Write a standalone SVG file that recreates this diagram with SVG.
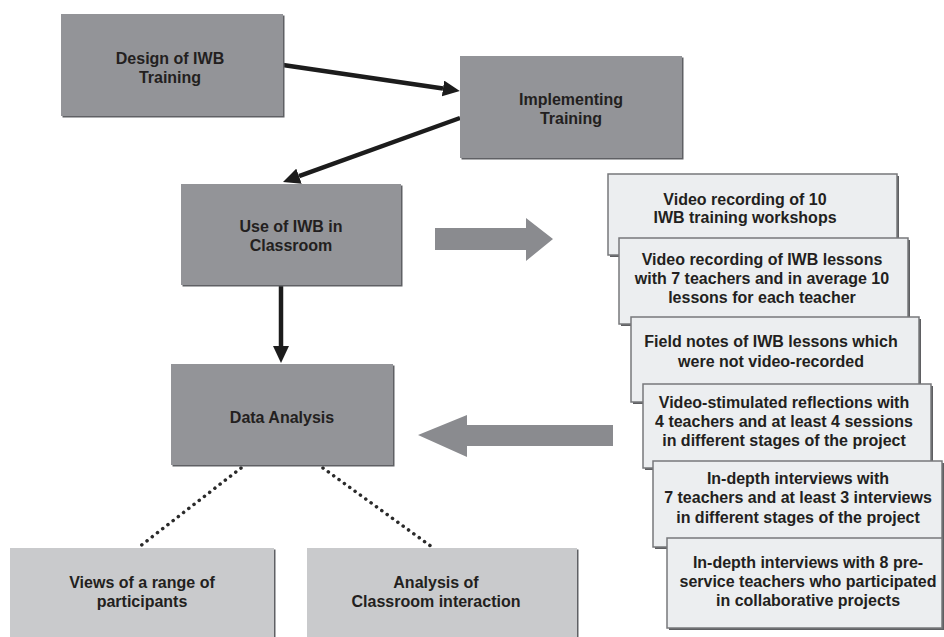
<svg xmlns="http://www.w3.org/2000/svg" width="944" height="637" viewBox="0 0 944 637">
<style>
  .dark { fill: #939498; }
  .dshadow { fill: #5f6064; }
  .lite { fill: #c9cacc; }
  .note { fill: #eceef0; stroke: #77787b; stroke-width: 1.5; }
  .nshadow { fill: #5e5f62; }
  text { font-family: "Liberation Sans", Arial, sans-serif; font-weight: bold; font-size: 16px; fill: #231f20; text-anchor: middle; }
  .conn { stroke: #1c1c1c; stroke-width: 4.5; fill: none; marker-end: url(#head); }
  .dots { stroke: #2a2a2a; stroke-width: 3.5; stroke-linecap: round; stroke-dasharray: 0.1 6.5; fill: none; }
  .big { fill: #8a8b8f; }
</style>
<defs>
  <marker id="head" markerUnits="userSpaceOnUse" markerWidth="18" markerHeight="16" refX="0" refY="8" orient="auto" viewBox="0 0 18 16">
    <path d="M0,0 L17,8 L0,16 Z" fill="#1c1c1c"/>
  </marker>
</defs>
<rect width="944" height="637" fill="#ffffff"/>

<g id="connectors">
  <line class="conn" x1="283" y1="65" x2="443" y2="88.5"/>
  <line class="conn" x1="460" y1="118" x2="299" y2="176.2"/>
  <line class="conn" x1="281" y1="286" x2="281" y2="346"/>
  <line class="dots" x1="241" y1="468" x2="139" y2="547"/>
  <line class="dots" x1="323" y1="468" x2="432" y2="547"/>
  <polygon class="big" points="435,228 526,228 526,218 553,239 526,261 526,250 435,250"/>
  <polygon class="big" points="613,425 467,425 467,415 418,435 467,457 467,446 613,446"/>
</g>

<g id="design">
  <rect class="dshadow" x="62.5" y="15.5" width="222" height="102"/>
  <rect class="dark" x="61" y="14" width="222" height="102"/>
  <text x="170" y="64">Design of IWB</text>
  <text x="170" y="83">Training</text>
</g>
<g id="implementing">
  <rect class="dshadow" x="461.5" y="57.5" width="222" height="102"/>
  <rect class="dark" x="460" y="56" width="222" height="102"/>
  <text x="571" y="105">Implementing</text>
  <text x="571" y="124">Training</text>
</g>
<g id="use">
  <rect class="dshadow" x="182.5" y="185.5" width="220" height="101"/>
  <rect class="dark" x="181" y="184" width="220" height="101"/>
  <text x="291" y="232">Use of IWB in</text>
  <text x="291" y="251">Classroom</text>
</g>
<g id="analysis">
  <rect class="dshadow" x="172.5" y="365.5" width="222" height="101"/>
  <rect class="dark" x="171" y="364" width="222" height="101"/>
  <text x="282" y="423">Data Analysis</text>
</g>
<g id="views">
  <rect class="dshadow" x="11.5" y="549.5" width="264" height="100"/>
  <rect class="lite" x="10" y="548" width="264" height="100"/>
  <text x="142" y="588">Views of a range of</text>
  <text x="142" y="607">participants</text>
</g>
<g id="interaction">
  <rect class="dshadow" x="308.5" y="549.5" width="270" height="100"/>
  <rect class="lite" x="307" y="548" width="270" height="100"/>
  <text x="436" y="588">Analysis of</text>
  <text x="436" y="607">Classroom interaction</text>
</g>

<g id="note1">
  <rect class="nshadow" x="610" y="176" width="289" height="81"/>
  <rect class="note" x="608" y="174" width="289" height="81"/>
  <text x="745" y="205">Video recording of 10</text>
  <text x="745" y="223">IWB training workshops</text>
</g>
<g id="note2">
  <rect class="nshadow" x="621" y="240" width="289" height="86"/>
  <rect class="note" x="619" y="238" width="289" height="86"/>
  <text x="762" y="265">Video recording of IWB lessons</text>
  <text x="762" y="284">with 7 teachers and in average 10</text>
  <text x="762" y="303">lessons for each teacher</text>
</g>
<g id="note3">
  <rect class="nshadow" x="633" y="319" width="288" height="85"/>
  <rect class="note" x="631" y="317" width="288" height="85"/>
  <text x="771" y="347">Field notes of IWB lessons which</text>
  <text x="771" y="367">were not video-recorded</text>
</g>
<g id="note4">
  <rect class="nshadow" x="645" y="386" width="288" height="84"/>
  <rect class="note" x="643" y="384" width="288" height="84"/>
  <text x="784" y="408">Video-stimulated reflections with</text>
  <text x="784" y="427">4 teachers and at least 4 sessions</text>
  <text x="784" y="446">in different stages of the project</text>
</g>
<g id="note5">
  <rect class="nshadow" x="655" y="463" width="289" height="86"/>
  <rect class="note" x="653" y="461" width="289" height="86"/>
  <text x="798" y="484">In-depth interviews with</text>
  <text x="798" y="503">7 teachers and at least 3 interviews</text>
  <text x="798" y="523">in different stages of the project</text>
</g>
<g id="note6">
  <rect class="nshadow" x="669" y="540" width="289" height="90"/>
  <rect class="note" x="667" y="538" width="275" height="90"/>
  <text x="808" y="568">In-depth interviews with 8 pre-</text>
  <text x="808" y="587">service teachers who participated</text>
  <text x="808" y="606">in collaborative projects</text>
</g>
</svg>
